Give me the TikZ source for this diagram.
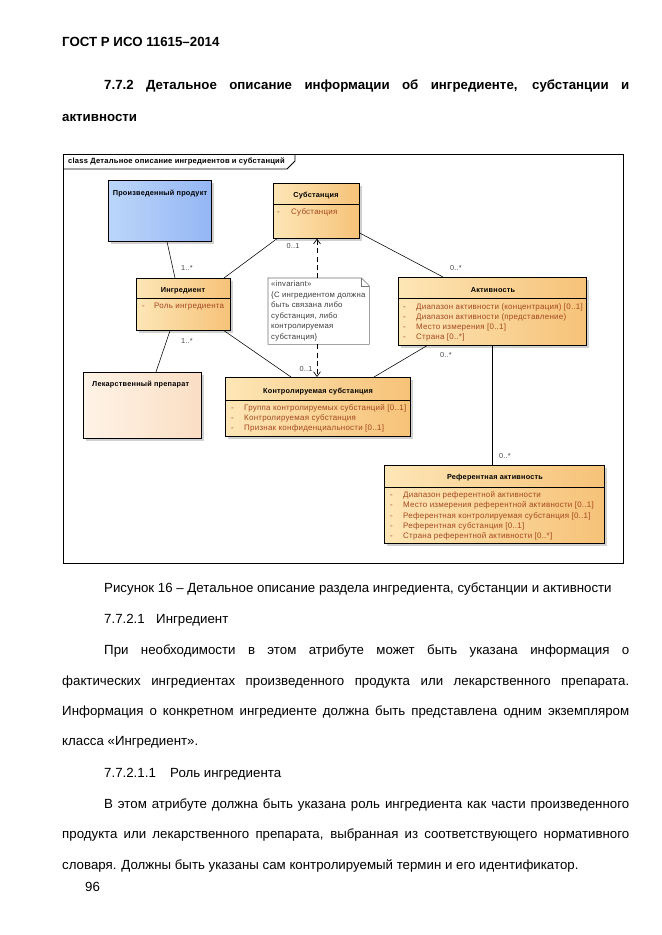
\documentclass[tikz,border=0pt]{standalone}
\usepackage{fontspec}
\setmainfont{Liberation Sans}
\newfontfamily\dgf[LetterSpace=3]{Liberation Sans}
\usetikzlibrary{arrows.meta,shadows,calc}
\newlength\pxu
\setlength\pxu{0.3177mm}
\definecolor{orL}{RGB}{253,230,182}
\definecolor{orR}{RGB}{246,194,120}
\definecolor{blL}{RGB}{188,214,250}
\definecolor{blR}{RGB}{148,182,244}
\definecolor{pkL}{RGB}{255,243,230}
\definecolor{pkR}{RGB}{250,222,196}
\definecolor{attrc}{RGB}{165,72,32}
\definecolor{multc}{RGB}{70,70,70}
\definecolor{notec}{RGB}{60,60,60}
\begin{document}
\begin{tikzpicture}[x=\pxu,y=-\pxu,
  cls/.style={draw=black, line width=0.6pt, left color=orL, right color=orR, anchor=north west, inner sep=0pt,
    general shadow={fill=black!18, shadow xshift=0.8mm, shadow yshift=-0.8mm}},
  ttl/.style={font=\dgf\fontsize{6.6}{8}\selectfont\bfseries, inner sep=0pt, anchor=base},
  attr/.style={font=\dgf\fontsize{7.2}{8}\selectfont, text=attrc, inner sep=0pt, anchor=base west},
  notetxt/.style={font=\dgf\fontsize{7}{8}\selectfont, text=notec, inner sep=0pt, anchor=base west},
  mlt/.style={font=\dgf\fontsize{6.6}{8}\selectfont, text=multc, inner sep=0pt, anchor=base},
  assoc/.style={line width=0.5pt},
  sepline/.style={line width=0.6pt},
  dep/.style={line width=0.6pt, dash pattern=on 1.6mm off 1mm, -{Straight Barb[length=1.5mm,width=2.2mm]}},
  body/.style={font=\fontsize{12}{14}\selectfont, anchor=base west, inner sep=0pt},
  bodyb/.style={font=\fontsize{12}{14}\selectfont\bfseries, anchor=base west, inner sep=0pt}]
\useasboundingbox (0,0) rectangle (661,935);
\fill[white] (0,0) rectangle (661,935);

% ---------- page text above ----------
\node[bodyb] (hdr) at (62,46.7) {ГОСТ Р ИСО 11615–2014};
\node[bodyb] (h1) at (104,90) {\makebox[525\pxu][s]{7.7.2 Детальное описание информации об ингредиенте, субстанции и}};
\node[bodyb] (h2) at (62,121.7) {активности};

% ---------- frame ----------
\draw[line width=0.7pt] (63,154) rectangle (623,563);
\draw[line width=0.7pt] (63,169) -- (287,169) -- (295,161) -- (295,154);
\node[ttl, anchor=base west, font=\dgf\fontsize{6.85}{8}\selectfont\bfseries] (frameT) at (68,163.5) {class Детальное описание ингредиентов и субстанций};

% ---------- classes ----------
\node[cls, left color=blL, right color=blR, minimum width=103*\pxu, minimum height=61*\pxu] (prod) at (108,180) {};
\node[ttl] (prodT) at (160,195.5) {Произведенный продукт};

\node[cls, minimum width=86*\pxu, minimum height=55*\pxu] (subst) at (273,183) {};
\draw[sepline] (subst.west |- 0,204) -- (subst.east |- 0,204);
\node[ttl] (substT) at (316,197.5) {Субстанция};
\node[attr] (substA) at (277,214.7) {\makebox[14\pxu][l]{-}Субстанция};

\node[cls, minimum width=94*\pxu, minimum height=52*\pxu] (ingr) at (136,278) {};
\draw[sepline] (ingr.west |- 0,298) -- (ingr.east |- 0,298);
\node[ttl] (ingrT) at (183,292.5) {Ингредиент};
\node[attr] (ingrA) at (142,308.7) {\makebox[12\pxu][l]{-}Роль ингредиента};

\node[cls, minimum width=188*\pxu, minimum height=68*\pxu] (act) at (398,277) {};
\draw[sepline] (act.west |- 0,298) -- (act.east |- 0,298);
\node[ttl] (actT) at (493,292.5) {Активность};
\node[attr] (actA1) at (403,309.5) {\makebox[13\pxu][l]{-}Диапазон активности (концентрация) [0..1]};
\node[attr] (actA2) at (403,319.5) {\makebox[13\pxu][l]{-}Диапазон активности (представление)};
\node[attr] (actA3) at (403,329.5) {\makebox[13\pxu][l]{-}Место измерения [0..1]};
\node[attr] (actA4) at (403,339.5) {\makebox[13\pxu][l]{-}Страна [0..*]};

\node[cls, left color=pkL, right color=pkR, minimum width=118*\pxu, minimum height=66*\pxu] (lek) at (83,372) {};
\node[ttl, anchor=base west] (lekT) at (92,386.5) {Лекарственный препарат};

\node[cls, minimum width=185*\pxu, minimum height=59*\pxu] (ctrl) at (225,377) {};
\draw[sepline] (ctrl.west |- 0,400) -- (ctrl.east |- 0,400);
\node[ttl] (ctrlT) at (318,393.5) {Контролируемая субстанция};
\node[attr] (ctrlA1) at (231,410.5) {\makebox[13\pxu][l]{-}Группа контролируемых субстанций [0..1]};
\node[attr] (ctrlA2) at (231,420.5) {\makebox[13\pxu][l]{-}Контролируемая субстанция};
\node[attr] (ctrlA3) at (231,430.5) {\makebox[13\pxu][l]{-}Признак конфиденциальности [0..1]};

\node[cls, minimum width=220*\pxu, minimum height=78*\pxu] (ref) at (384,465) {};
\draw[sepline] (ref.west |- 0,487) -- (ref.east |- 0,487);
\node[ttl] (refT) at (495,479.5) {Референтная активность};
\node[attr] (refA1) at (390,497.5) {\makebox[13\pxu][l]{-}Диапазон референтной активности};
\node[attr] (refA2) at (390,507.7) {\makebox[13\pxu][l]{-}Место измерения референтной активности [0..1]};
\node[attr] (refA3) at (390,518) {\makebox[13\pxu][l]{-}Референтная контролируемая субстанция [0..1]};
\node[attr] (refA4) at (390,528.3) {\makebox[13\pxu][l]{-}Референтная субстанция [0..1]};
\node[attr] (refA5) at (390,538.5) {\makebox[13\pxu][l]{-}Страна референтной активности [0..*]};

% ---------- note ----------
\node[inner sep=0pt, minimum width=101*\pxu, minimum height=66*\pxu, anchor=north west] (note) at (268,278) {};
\draw[line width=0.5pt, draw=black!55, fill=white]
  (note.north west) -- ([xshift=-8*\pxu]note.north east) -- ([yshift=-8*\pxu]note.north east)
  -- (note.south east) -- (note.south west) -- cycle;
\draw[line width=0.5pt, draw=black!55]
  ([xshift=-8*\pxu]note.north east) -- ([xshift=-8*\pxu,yshift=-8*\pxu]note.north east) -- ([yshift=-8*\pxu]note.north east);
\node[notetxt] (n1) at (271,286.7) {«invariant»};
\node[notetxt] (n2) at (271,297.7) {\{С ингредиентом должна};
\node[notetxt] (n3) at (271,307.7) {быть связана либо};
\node[notetxt] (n4) at (271,318.7) {субстанция, либо};
\node[notetxt] (n5) at (271,328.7) {контролируемая};
\node[notetxt] (n6) at (271,339.7) {субстанция\}};

% ---------- connectors ----------
\draw[assoc] (167,0 |- prod.south) -- (175,0 |- ingr.north);
\draw[assoc] (224,0 |- ingr.north) -- (277,0 |- subst.south);
\draw[assoc] (subst.east |- 0,233) -- (443,0 |- act.north);
\draw[assoc] (170,0 |- ingr.south) -- (156,0 |- lek.north);
\draw[assoc] (224,0 |- ingr.south) -- (291,0 |- ctrl.north);
\draw[assoc] (427,0 |- act.south) -- (374,0 |- ctrl.north);
\draw[assoc] (492,0 |- act.south) -- (492,0 |- ref.north);
\draw[dep] (317,0 |- note.north) -- (317,0 |- subst.south);
\draw[dep] (317,0 |- note.south) -- (317,0 |- ctrl.north);

\node[mlt] (m1) at (187,270.5) {1..*};
\node[mlt] (m2) at (187,343.2) {1..*};
\node[mlt] (m3) at (293,248.5) {0..1};
\node[mlt] (m4) at (456,270.5) {0..*};
\node[mlt] (m5) at (446,357.5) {0..*};
\node[mlt] (m6) at (306,371.5) {0..1};
\node[mlt] (m7) at (505,458.5) {0..*};

% ---------- page text below ----------
\node[body] (cap) at (104,592) {Рисунок 16 – Детальное описание раздела ингредиента, субстанции и активности};
\node[body] (s1) at (104,623) {7.7.2.1};
\node[body] (s1t) at (156,623) {Ингредиент};
\node[body] (p1) at (104,654) {\makebox[525\pxu][s]{При необходимости в этом атрибуте может быть указана информация о}};
\node[body] (p2) at (62,685) {\makebox[567\pxu][s]{фактических ингредиентах произведенного продукта или лекарственного препарата.}};
\node[body] (p3) at (62,715) {\makebox[567\pxu][s]{Информация о конкретном ингредиенте должна быть представлена одним экземпляром}};
\node[body] (p4) at (62,745) {класса «Ингредиент».};
\node[body] (s2) at (104,777) {7.7.2.1.1};
\node[body] (s2t) at (170,777) {Роль ингредиента};
\node[body] (q1) at (104,808) {\makebox[525\pxu][s]{В этом атрибуте должна быть указана роль ингредиента как части произведенного}};
\node[body] (q2) at (62,838) {\makebox[567\pxu][s]{продукта или лекарственного препарата, выбранная из соответствующего нормативного}};
\node[body] (q3) at (62,869) {словаря. Должны быть указаны сам контролируемый термин и его идентификатор.};
\node[body] (pg) at (85,891) {96};
\end{tikzpicture}
\end{document}
